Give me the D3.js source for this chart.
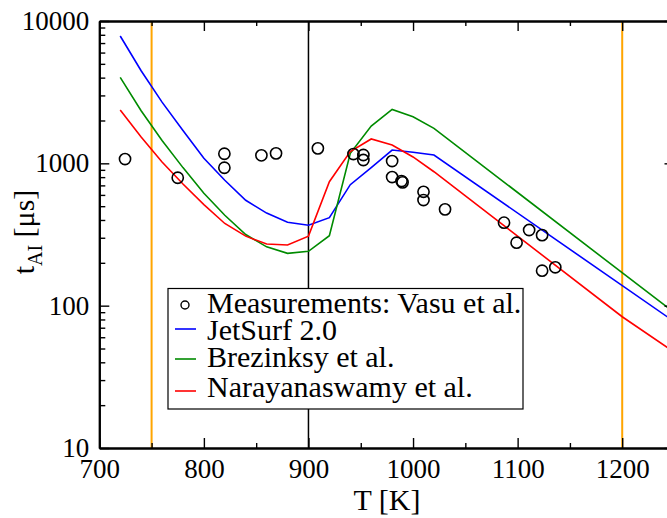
<!DOCTYPE html>
<html><head><meta charset="utf-8">
<script src="https://cdn.jsdelivr.net/npm/d3@7"></script>
<style>
html,body{margin:0;padding:0;background:#fff;overflow:hidden;}
svg{display:block;}
svg text{font-family:"Liberation Serif","Times New Roman",Times,"DejaVu Serif",serif !important;}
</style></head>
<body>
<svg id="c" width="667" height="518"></svg>
<script>
// ---- data ----
const measT = [724.6,775,819.6,819.6,855,869,909,943,952.5,952.5,980,980,989,990,1010,1010,1030.6,1087,1099,1111,1123.4,1123.4,1136];
const measTau = [1072,792,1168,931,1138,1175,1274,1162,1144,1055,1038,801,751,735,631,552,475,383,277,340,313,176,186];

const jetT = [720,740,760,780,800,820,840,860,880,900,920,940,960,980,1000,1020,1250];
const jetTau = [7850,4470,2690,1700,1085,760,550,447,385,367,415,708,933,1240,1197,1143,77];

const brezT = [720,740,760,780,800,820,840,860,880,900,920,940,960,980,1000,1020,1250];
const brezTau = [4020,2340,1445,933,617,432,316,259,233,241,310,1175,1828,2393,2123,1762,89];

const naraT = [720,740,760,780,800,820,840,860,880,900,920,940,960,980,1000,1020,1200,1250];
const naraTau = [2370,1531,1023,716,513,378,308,271,267,308,743,1208,1483,1346,1109,873,83.6,47];

const seriesNames = ["Measurements: Vasu et al.","JetSurf 2.0","Brezinksy et al.","Narayanaswamy et al."];
const seriesColors = ["#000000","#0000ff","#008b00","#ff0000"];
const xTicks = [700,800,900,1000,1100,1200];
const xMinor = [750,850,950,1050,1150,1250];
const yTicks = [10,100,1000,10000];
const refLinesOrange = [750,1200];
const refLineBlack = [900];
const xLabel = "T [K]";

// ---- layout ----
const FONT = '"Liberation Serif","Times New Roman",Times,"DejaVu Serif",serif';
const svg = d3.select("#c");
const L = 99.3, R = 674.5, T = 21, B = 448;
const x = d3.scaleLinear().domain([700,1250]).range([L,R]);
const y = d3.scaleLog().domain([10,10000]).range([B,T]);

const yMinor = [];
for (let d = 10; d < 10000; d *= 10) for (let k = 2; k <= 9; k++) yMinor.push(d*k);

svg.append("clipPath").attr("id","clip").append("rect")
  .attr("x",L).attr("y",T).attr("width",R-L).attr("height",B-T);

const plot = svg.append("g").attr("clip-path","url(#clip)");

plot.selectAll("line.ref").data(refLinesOrange).enter().append("line")
  .attr("x1",d=>x(d)).attr("x2",d=>x(d)).attr("y1",T).attr("y2",B)
  .attr("stroke","#ffa500").attr("stroke-width",2);
plot.selectAll("line.refb").data(refLineBlack).enter().append("line")
  .attr("x1",d=>x(d)).attr("x2",d=>x(d)).attr("y1",T).attr("y2",B)
  .attr("stroke","#000").attr("stroke-width",1.5);

const line = d3.line().x(d=>x(d[0])).y(d=>y(d[1]));
const series = [[jetT,jetTau],[brezT,brezTau],[naraT,naraTau]];
series.forEach((s,i)=>{
  plot.append("path").datum(s[0].map((t,j)=>[t,s[1][j]]))
    .attr("d",line).attr("fill","none")
    .attr("stroke",seriesColors[i+1]).attr("stroke-width",1.6);
});

plot.selectAll("circle.m").data(measT.map((t,j)=>[t,measTau[j]])).enter().append("circle")
  .attr("cx",d=>x(d[0])).attr("cy",d=>y(d[1])).attr("r",5.6)
  .attr("fill","none").attr("stroke","#000").attr("stroke-width",1.6);

function styleAxis(g){
  g.attr("font-family",FONT);
  g.select(".domain").attr("stroke","#000").attr("stroke-width",2);
  g.selectAll(".tick line").attr("stroke","#000").attr("stroke-width",1.4);
  g.selectAll("text").attr("font-family",FONT).attr("font-size",27).attr("fill","#000");
}
const fmt = d3.format("d");
svg.append("g").attr("transform",`translate(0,${B})`)
  .call(d3.axisBottom(x).tickValues(xTicks).tickFormat(fmt).tickSize(-10).tickPadding(11).tickSizeOuter(0))
  .call(styleAxis);
svg.append("g").attr("transform",`translate(0,${B})`)
  .call(d3.axisBottom(x).tickValues(xMinor).tickFormat("").tickSize(-5).tickSizeOuter(0))
  .call(styleAxis);
svg.append("g").attr("transform",`translate(0,${T})`)
  .call(d3.axisTop(x).tickValues(xTicks).tickFormat("").tickSize(-10).tickSizeOuter(0))
  .call(styleAxis);
svg.append("g").attr("transform",`translate(0,${T})`)
  .call(d3.axisTop(x).tickValues(xMinor).tickFormat("").tickSize(-5).tickSizeOuter(0))
  .call(styleAxis);
svg.append("g").attr("transform",`translate(${L},0)`)
  .call(d3.axisLeft(y).tickValues(yTicks).tickFormat(fmt).tickSize(-10).tickPadding(10).tickSizeOuter(0))
  .call(styleAxis);
svg.append("g").attr("transform",`translate(${L},0)`)
  .call(d3.axisLeft(y).tickValues(yMinor).tickFormat("").tickSize(-6).tickSizeOuter(0))
  .call(styleAxis);
svg.append("g").attr("transform",`translate(${R},0)`)
  .call(d3.axisRight(y).tickValues(yTicks).tickFormat("").tickSize(-10).tickSizeOuter(0))
  .call(styleAxis);
svg.append("g").attr("transform",`translate(${R},0)`)
  .call(d3.axisRight(y).tickValues(yMinor).tickFormat("").tickSize(-6).tickSizeOuter(0))
  .call(styleAxis);

svg.append("text").attr("x",387).attr("y",510).attr("font-family",FONT)
  .attr("text-anchor","middle").attr("font-size",30).text(xLabel);

const yl = svg.append("text").attr("transform","translate(34,232) rotate(-90)")
  .attr("font-family",FONT).attr("text-anchor","middle").attr("font-size",30);
yl.append("tspan").text("t");
yl.append("tspan").attr("font-size",20).attr("dy",8).text("AI");
yl.append("tspan").attr("dy",-8).text(" [μs]");

const lg = svg.append("g");
lg.append("rect").attr("x",168).attr("y",288.5).attr("width",355).attr("height",120.5)
  .attr("fill","#fff").attr("stroke","#000").attr("stroke-width",1.2);
const baselines = [313,340,367,397];
const symY = [305,329,359,391];
seriesNames.forEach((n,i)=>{
  lg.append("text").attr("x",207).attr("y",baselines[i]).attr("font-family",FONT)
    .attr("font-size",30).attr("fill","#000").text(n);
  if (i===0) {
    lg.append("circle").attr("cx",185).attr("cy",symY[i]).attr("r",4).attr("fill","none")
      .attr("stroke","#000").attr("stroke-width",1.4);
  } else {
    lg.append("line").attr("x1",175).attr("x2",196).attr("y1",symY[i]).attr("y2",symY[i])
      .attr("stroke",seriesColors[i]).attr("stroke-width",1.6);
  }
});
</script>
</body></html>
